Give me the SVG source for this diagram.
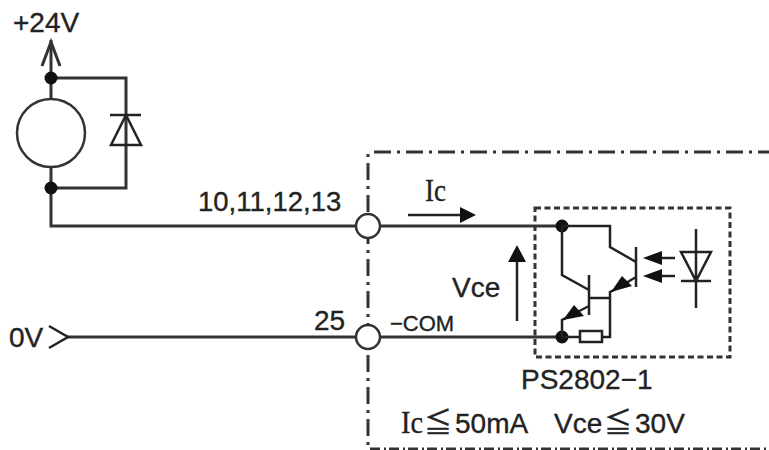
<svg xmlns="http://www.w3.org/2000/svg" width="769" height="450" viewBox="0 0 769 450">
<style>
.w{fill:none;stroke:#333;stroke-width:3;stroke-linejoin:miter}
.t{fill:none;stroke:#222;stroke-width:2.5}
.d{fill:#111;stroke:none}
.o{fill:#fff;stroke:#333;stroke-width:2.5}
.dd{fill:none;stroke:#333;stroke-width:3;stroke-dasharray:17 6 3 6}
.bx{fill:none;stroke:#333;stroke-width:3;stroke-dasharray:6 3.5}
text{font-family:"Liberation Sans","Noto Sans CJK JP",sans-serif;fill:#222;font-size:28px;stroke:#222;stroke-width:.35}
.s{font-family:"Liberation Serif","Noto Sans CJK JP",serif;font-size:31px}
</style>
<rect width="769" height="450" fill="#fff"/>
<g id="boundary">
<path class="dd" style="stroke-dashoffset:22" d="M368 153V450"/>
<path class="dd" d="M374 152H769"/>
<path class="dd" style="stroke-dasharray:10 4 2 3" d="M370 449H769"/>
</g>
<g id="connectors">
<path class="w" d="M51 40V78"/>
<path class="w" d="M42 66L51 42L60 66"/>
<path class="w" d="M51 78V100M51 167V226H368"/>
<path class="w" d="M51 78H126V188H51"/>
<path class="w" d="M368 226H562"/>
<path class="w" d="M66 337H562"/>
<path class="t" d="M49 326L68 337L49 348"/>
</g>
<g id="load"><circle class="o" cx="51" cy="133" r="34"/></g>
<g id="dot-top"><circle class="d" cx="51" cy="78" r="6.5"/></g>
<g id="dot-bottom"><circle class="d" cx="51" cy="188" r="6.5"/></g>
<g id="flyback-diode">
<path class="t" d="M110 115H141M126 115L111 145H141Z"/>
</g>
<g id="terminal-upper"><circle class="o" cx="368" cy="226" r="12"/></g>
<g id="terminal-lower"><circle class="o" cx="368" cy="337" r="12"/></g>
<g id="ic-arrow">
<path class="t" d="M408 215H462"/><path class="d" d="M460 207L476 215L460 223Z"/>
</g>
<g id="vce-arrow">
<path class="t" d="M517 321V258"/><path class="d" d="M508 262L517 245L526 262Z"/>
</g>
<g id="optocoupler">
<rect class="bx" x="535" y="208" width="195" height="149"/>
<circle class="d" cx="562" cy="226" r="6.5"/>
<circle class="d" cx="562" cy="337" r="6.5"/>
<path class="t" d="M562 226H610V247L636 262"/>
<path class="t" d="M636 247V287M636 277L616 289L610 292V337H602"/>
<path class="t" d="M562 226V275L589 290M589 275V315M589 298H610"/>
<path class="t" d="M589 306L562 320V337H580"/>
<path class="d" d="M611 292L622 276L632 286Z"/>
<path class="d" d="M563 320L574 305L584 316Z"/>
<rect class="t" x="580" y="331" width="22" height="11" fill="#fff"/>
<path class="t" d="M675 258H655M675 276H655"/>
<path class="d" d="M643 258L662 251V265Z"/>
<path class="d" d="M643 276L662 269V283Z"/>
<path class="t" d="M696 229V308M681 281H711M681 252H711L696 281Z"/>
</g>
<g id="labels">
<text x="13" y="32">+24V</text>
<text x="198" y="211" style="font-size:27.5px">10,11,12,13</text>
<text x="9" y="347">0V</text>
<text x="314" y="330">25</text>
<text x="390" y="331" style="font-size:22px">−COM</text>
<text class="s" x="425" y="201" textLength="21" lengthAdjust="spacingAndGlyphs">Ic</text>
<text x="452" y="297">Vce</text>
<text x="521" y="389">PS2802−1</text>
<text class="s" x="401" y="433" textLength="22" lengthAdjust="spacingAndGlyphs">Ic</text>
<text x="424" y="433">≦</text>
<text x="455" y="433">50mA</text>
<text x="554" y="433">Vce</text>
<text x="604" y="433">≦</text>
<text x="635" y="433">30V</text>
</g>
</svg>
